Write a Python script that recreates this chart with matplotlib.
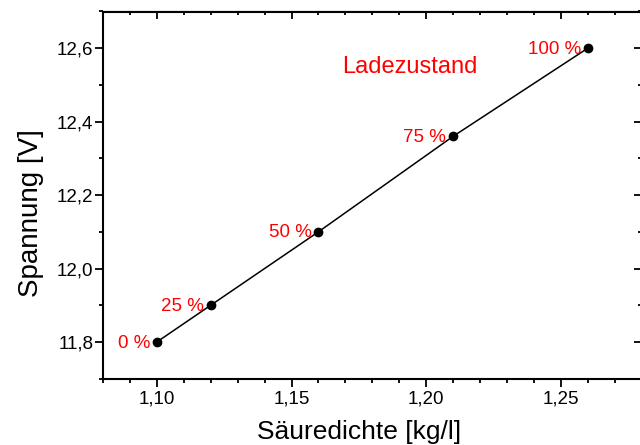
import matplotlib
matplotlib.use("Agg")
import matplotlib.pyplot as plt
from matplotlib.ticker import MultipleLocator, FuncFormatter

# Messwerte: Säuredichte gegen Ruhespannung
dichte = [1.10, 1.12, 1.16, 1.21, 1.26]
spannung = [11.80, 11.90, 12.10, 12.36, 12.60]
ladung = ["0 %", "25 %", "50 %", "75 %", "100 %"]

plt.rcParams['font.family'] = ['Liberation Sans', 'DejaVu Sans']

fig = plt.figure(figsize=(6.4, 4.45), dpi=100)
ax = fig.add_axes([103 / 640, 1 - 378.7 / 445, 538.6 / 640, 367.2 / 445])

ax.plot(dichte, spannung, color='black', lw=1.1, marker='o', ms=6)

for x, y, txt in zip(dichte, spannung, ladung):
    ax.annotate(txt, (x, y), xytext=(-5, -0.8), textcoords='offset points',
                ha='right', va='center', color='red', fontsize=13.5)

ax.text(0.569, 0.849, "Ladezustand", transform=ax.transAxes, color='red',
        fontsize=17, ha='center', va='center')

ax.set_xlim(1.08, 1.28)
ax.set_ylim(11.7, 12.7)
ax.xaxis.set_major_locator(MultipleLocator(0.05))
ax.xaxis.set_minor_locator(MultipleLocator(0.01))
ax.yaxis.set_major_locator(MultipleLocator(0.2))
ax.yaxis.set_minor_locator(MultipleLocator(0.1))
ax.xaxis.set_major_formatter(FuncFormatter(lambda v, p: f"{v:.2f}".replace('.', ',')))
ax.yaxis.set_major_formatter(FuncFormatter(lambda v, p: f"{v:.1f}".replace('.', ',')))

for s in ax.spines.values():
    s.set_linewidth(1.5)

ax.tick_params(which='both', direction='out', width=1.3, labelsize=13.5)
ax.tick_params(which='major', length=5.5)
ax.tick_params(which='minor', length=3)
ax.tick_params(axis='x', pad=3)
ax.tick_params(axis='y', pad=1.5)

# Gegenachsen oben/rechts mit Ticks nach innen
top = ax.secondary_xaxis('top')
top.xaxis.set_major_locator(MultipleLocator(0.05))
top.xaxis.set_minor_locator(MultipleLocator(0.01))
top.tick_params(which='both', direction='in', width=1.3, labeltop=False)
top.tick_params(which='major', length=5.5)
top.tick_params(which='minor', length=3)
right = ax.secondary_yaxis('right')
right.yaxis.set_major_locator(MultipleLocator(0.2))
right.yaxis.set_minor_locator(MultipleLocator(0.1))
right.tick_params(which='both', direction='in', width=1.3, labelright=False)
right.tick_params(which='major', length=5.5)
right.tick_params(which='minor', length=3)

ax.set_xlabel("Säuredichte [kg/l]", fontsize=19)
ax.set_ylabel("Spannung [V]", fontsize=20)
ax.xaxis.set_label_coords(0.475, -0.112)
ax.yaxis.set_label_coords(-0.11, 0.451)

fig.savefig("out.png", dpi=100)
